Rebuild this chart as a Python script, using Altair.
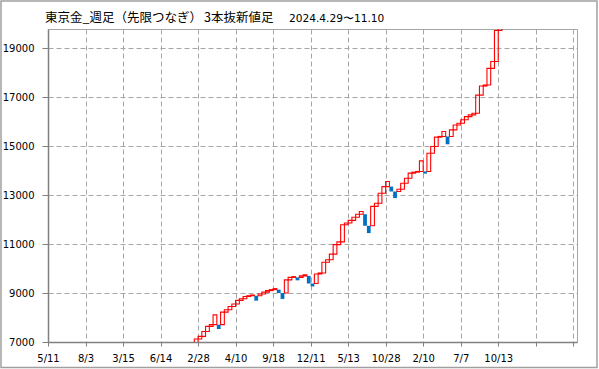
import altair as alt
import pandas as pd

# ---- text ----
title_main = "東京金_週足（先限つなぎ）"
title_kind = "3本抜新値足"
title_period = "2024.4.29〜11.10"

# ---- axes ----
x_labels = ["5/11", "8/3", "3/15", "6/14", "2/28", "4/10", "9/18",
            "12/11", "5/13", "10/28", "2/10", "7/7", "10/13"]
x_grid_values = [0, 10, 20, 30, 40, 50, 60, 70, 80, 90, 100, 110, 120, 130, 140]
y_ticks = [7000, 9000, 11000, 13000, 15000, 17000, 19000]
x_domain = [0, 141]
y_domain = [7000, 19790]

# ---- line-break bars (index of first visible bar, price it starts from, closes) ----
first_index = 39
start_value = 6900
closes = [7120, 7230, 7430, 7640, 7710, 8110, 7530, 8220, 8320, 8450,
          8550, 8700, 8770, 8860, 8890, 8920, 8690, 8960, 9040, 9100,
          9140, 9180, 9000, 8760, 9540, 9640, 9670, 9520, 9700, 9750,
          9390, 9270, 9780, 9820, 10260, 10360, 10590, 10980, 11090, 11790,
          11860, 11970, 12100, 12220, 12330, 11750, 11450, 12540, 12670, 13080,
          13350, 13560, 13150, 12880, 13240, 13490, 13690, 13900, 13940, 13970,
          14400, 13880, 14710, 14990, 15370, 15400, 15600, 15080, 15670, 15870,
          15940, 16080, 16210, 16280, 16350, 17090, 17460, 17500, 18180, 18460,
          19730, 20100]
directions = ["u", "u", "u", "u", "u", "u", "d", "u", "u", "u",
              "u", "u", "u", "u", "u", "u", "d", "u", "u", "u",
              "u", "u", "d", "d", "u", "u", "u", "d", "u", "u",
              "d", "d", "u", "u", "u", "u", "u", "u", "u", "u",
              "u", "u", "u", "u", "u", "d", "d", "u", "u", "u",
              "u", "u", "d", "d", "u", "u", "u", "u", "u", "u",
              "u", "d", "u", "u", "u", "u", "u", "d", "u", "u",
              "u", "u", "u", "u", "u", "u", "u", "u", "u", "u",
              "u", "u"]

rows = []
prev_lo, prev_hi = start_value, start_value
for k, (c, d) in enumerate(zip(closes, directions)):
    i = first_index + k
    if d == "u":
        lo, hi = prev_hi, c
    else:
        lo, hi = c, prev_lo
    rows.append({"x": i, "x2": i + 1, "lo": lo, "hi": hi, "dir": d})
    prev_lo, prev_hi = lo, hi
df = pd.DataFrame(rows)

GRID = "#A6A6A6"
AXIS = "#808080"
label_expr = "(" + str(x_labels).replace('"', "'") + ")[datum.value / 10] || ''"

x_axis = alt.Axis(values=x_grid_values, labelExpr=label_expr, grid=True,
                  gridDash=[5, 3], gridColor=GRID, gridWidth=1,
                  domainColor=AXIS, domainWidth=1.5, tickColor=AXIS, tickSize=4,
                  labelFont="DejaVu Sans", labelFontSize=10, labelColor="#000000",
                  labelPadding=7, labelAngle=0, labelFlush=False, title=None)
y_axis = alt.Axis(values=y_ticks, grid=True, gridDash=[5, 3], gridColor=GRID,
                  gridWidth=1, domainColor=AXIS, domainWidth=1.5, tickColor=AXIS,
                  tickSize=6, labelFont="DejaVu Sans", labelFontSize=10,
                  labelColor="#000000", labelPadding=8, format="d", title=None)

xs = alt.Scale(domain=x_domain, nice=False, zero=False)
ys = alt.Scale(domain=y_domain, nice=False, zero=False)

base = alt.Chart(df).encode(
    x=alt.X("x:Q", scale=xs, axis=x_axis),
    x2="x2:Q",
    y=alt.Y("lo:Q", scale=ys, axis=y_axis),
    y2="hi:Q",
)
up = base.transform_filter("datum.dir == 'u'").mark_rect(
    fillOpacity=0, stroke="#FF0000", strokeWidth=1.1, clip=True)
down = base.transform_filter("datum.dir == 'd'").mark_rect(
    fill="#0070C0", clip=True)

one = alt.Data(values=[{}])
border = alt.Chart(one).mark_rect(fillOpacity=0, stroke="#A0A0A0", strokeWidth=1.5).encode(
    x=alt.value(-47), x2=alt.value(549), y=alt.value(-28), y2=alt.value(338.5))
t1 = alt.Chart(one).mark_text(align="left", baseline="alphabetic", font="Noto Sans CJK JP",
                              fontSize=12.5, color="#000000").encode(
    x=alt.value(-3), y=alt.value(-7), text=alt.value(title_main))
t2 = alt.Chart(one).mark_text(align="left", baseline="alphabetic", font="Noto Sans CJK JP",
                              fontSize=12.5, color="#000000").encode(
    x=alt.value(156), y=alt.value(-7), text=alt.value(title_kind))
t3 = alt.Chart(one).mark_text(align="left", baseline="alphabetic", font="DejaVu Sans",
                              fontSize=10.6, color="#000000").encode(
    x=alt.value(241), y=alt.value(-7.5), text=alt.value(title_period))

chart = alt.layer(up, down, border, t1, t2, t3).properties(
    width=529, height=313,
    autosize=alt.AutoSizeParams(type="none"),
    padding={"left": 48, "top": 29, "right": 22, "bottom": 27},
    background="#FFFFFF",
).configure_view(stroke=GRID, strokeWidth=1)

chart.save("out.html", embed_options={"renderer": "svg", "actions": False})
